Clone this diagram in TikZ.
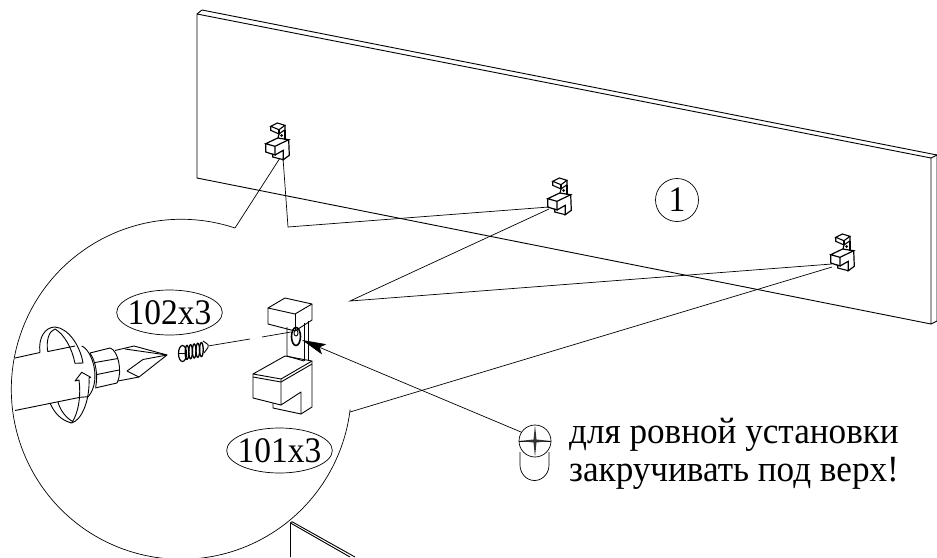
\documentclass[tikz,border=0pt]{standalone}
\usepackage{fontspec}
\setmainfont{Liberation Serif}
\newfontfamily\labelfont[FakeStretch=0.93]{Liberation Serif}
\newfontfamily\notefont[FakeStretch=0.95]{Liberation Serif}
\usetikzlibrary{
  positioning,
  shapes.geometric,
  arrows.meta
}
\tikzset{
  line/.style={line width=0.9pt, line join=round},
  leader/.style={line width=0.7pt},
  callout/.style={ellipse, draw, line width=0.7pt, minimum width=105pt, minimum height=45pt, inner ysep=0pt, inner xsep=-4.5pt, font=\labelfont\fontsize{36}{36}\selectfont},
  notetext/.style={anchor=base west, inner sep=0pt, font=\notefont\fontsize{37}{38}\selectfont},
  pics/bracket/.style={code={
    %cap
    \draw[line] (15,10) -- (32,0) -- (59,6) -- (42,16) -- cycle;
    \draw[line] (15,10) -- (15,26) -- (42,33) -- (59,22) -- (59,6);
    \draw[line] (42,16) -- (42,33);
    %stem
    \draw[line] (34,29) -- (34,58) -- (51,63);
    \draw[line] (51,25) -- (51,63);
    \draw[line] (55,23) -- (55,62);
    %hole
    \draw[line width=1.6pt] (43,38.5) ellipse (4.5 and 9);
    \draw[line] (43,35) ellipse (2 and 3);
    %block
    \draw[line] (0,76) -- (32,58) -- (59,63) -- (28,81) -- cycle;
    \draw[line] (0,79) -- (28,84) -- (59,66);
    \draw[line] (0,76) -- (0,100) -- (28,107);
    \draw[line] (28,81) -- (28,107) -- (48,94) -- (48,116) -- (59,109) -- (59,63);
    \draw[line] (20,105) -- (20,110) -- (48,116);
  }},
  pics/smallbracket/.style={code={
    %cap
    \draw[line width=1.1pt] (5.7,3.3) -- (12.3,0) -- (20,2.3) -- (14,6.7) -- cycle;
    \draw[line width=1.1pt] (5.7,3.3) -- (5.7,7.3) -- (14,11) -- (20,6.7) -- (20,2.3);
    \draw[line width=1.1pt] (14,6.7) -- (14,11);
    %stem
    \draw[line width=1.1pt] (14,11) -- (13,15);
    \draw[line width=1.1pt] (20,7) -- (20,17);
    \fill (16.5,12.5) circle (1.5);
    %block
    \draw[line width=1.2pt] (0.7,20.7) -- (12.7,15) -- (23.7,16.7) -- (10,23.3) -- cycle;
    \draw[line width=1.2pt] (0.7,20.7) -- (0.7,29) -- (10,32) -- (10,23.3);
    \draw[line width=1.2pt] (10,32) -- (18.3,27.3) -- (18.3,36.7) -- (24.3,32.3) -- (23.7,16.7);
    \draw[line width=1.1pt] (7.7,30.7) -- (7.7,34) -- (18.3,36.7);
  }}
}
\begin{document}
\begin{tikzpicture}[x=1pt, y=-1pt]
\useasboundingbox (0,0) rectangle (937,557);
%Panel
\draw[line] (197,14) -- (931,158) -- (931,324) -- (197,178) -- cycle;
\draw[line] (197,14) -- (202,10) -- (937,155) -- (937,321) -- (931,324);
\draw[line] (931,158) -- (937,155);

%Second panel below
\draw[line] (290.5,557) -- (290.5,523) -- (350,557);
\draw[line] (290.5,523) -- (292,521.7) -- (355,557);

%Brackets
\pic (small1) at (265,123) {smallbracket};
\pic (small2) at (547,178) {smallbracket};
\pic (small3) at (830,234) {smallbracket};
\pic (big) at (253,298) {bracket};

%Detail circle
\coordinate (arcstart) at (235,228);
\coordinate (arcend)   at (350,412);
\draw[leader] (arcstart) arc[start angle=-71.6, end angle=-353.2, radius=170];

%Leader lines
\coordinate (b1a) at (280,158);
\coordinate (b1b) at (283,158);
\coordinate (knee) at (288,227);
\coordinate (b2a) at (549,207);
\coordinate (b2b) at (549,209);
\coordinate (apex) at (350,301);
\coordinate (b3a) at (832,264);
\coordinate (b3b) at (832,267);
\draw[leader] (b1a) -- (arcstart);
\draw[leader] (b1b) -- (knee) -- (b2a);
\draw[leader] (b2b) -- (apex) -- (b3a);
\draw[leader] (b3b) -- (arcend);

%Labels
\node[callout] (qty102) at (169.5,312.5) {102x3};
\node[callout] (qty101) at (279.5,450.5) {101x3};
\node[circle, draw, line width=0.7pt, minimum size=43pt, inner sep=0pt, font=\labelfont\fontsize{36}{36}\selectfont] (panelno) at (677,200) {1};
\node[notetext] (note1) at (569,443) {для ровной установки};
\node[notetext] (note2) at (569,481) {закручивать под верх!};

%Screw head
\coordinate (headc) at (535,441);
\draw[leader] (520,452) -- (520,465) arc[start angle=180, end angle=0, x radius=14.5, y radius=15.5] -- (549,452);
\draw[leader, fill=white] (headc) circle (16);
\draw[leader] (519,441) -- (551,441);
\fill[black!80] (519,441) -- (533.5,439.5) -- (535,425) -- (536.5,439.5) -- (551,441) -- (536.5,442.5) -- (535,457) -- (533.5,442.5) -- cycle;
\coordinate (headpt) at (521,432);
\coordinate (holept) at (302,340);
\draw[leader, -{Stealth[length=24pt, width=11pt, inset=5pt]}] (headpt) -- (holept);

%Screw
\foreach \i in {0,...,4}
  \draw[line width=1.3pt] (187+3.6*\i,352.4-0.7*\i) ellipse (1.8 and 7);
\draw[line width=1.2pt] (182.5,353.5) ellipse (4 and 8);
\draw[line width=0.8pt] (178.5,353.5) -- (186.5,353.5);
\draw[line] (203,341) -- (208,344.5) -- (208,347.5) -- (204,353);

%Axis of the screw
\coordinate (axis1) at (208,346);
\coordinate (axis2) at (250,339);
\coordinate (axis3) at (262,337);
\coordinate (axis4) at (291,332);
\draw[leader] (axis1) -- (axis2);
\draw[leader] (axis3) -- (axis4);

%Screwdriver shaft
\draw[line] (15,358) -- (40,352.5);
\draw[line] (48,351.5) -- (75,346);
\draw[line] (15,410.5) -- (80,397.3);
%Flange
\draw[line] (81.7,346) .. controls (92,350) and (102,380) .. (88.3,396.7) -- (80,397.3);
\draw[line] (90,353) .. controls (96,362) and (98,375) .. (95.7,387);
%Collar
\draw[line] (90,353) -- (110,348) .. controls (118,350) and (123,372) .. (117,383) -- (95,388);
\draw[line] (95,362.5) -- (118,358.5);
\draw[line] (97,374.5) -- (119,370);
%Tip
\draw[line] (115,350.5) -- (134,346) -- (167,355) -- (139,377) -- (118,381);
\draw[line] (125,349) -- (167,355);
\draw[line] (127,371) -- (143,359.5) -- (167,355);
\draw[line] (127,371) -- (139,377);

%Rotation arrow
\draw[line] (40,352.5) .. controls (38,338) and (45,327) .. (55,327) .. controls (68,328) and (80,345) .. (83,363) -- (75,363.3) .. controls (72,348) and (64,334) .. (55,329) .. controls (49,331) and (46,340) .. (47.7,351.7);
\draw[line] (50,403) .. controls (54,412) and (60,420) .. (71.7,423) .. controls (82,420) and (90,400) .. (89,378) -- (90.7,377.3) -- (81.7,372.3) -- (75,381) -- (79,380) .. controls (81,395) and (79,412) .. (71.7,423);
\draw[line] (58,402) .. controls (60,410) and (66,418) .. (73,421.7);
\end{tikzpicture}
\end{document}
